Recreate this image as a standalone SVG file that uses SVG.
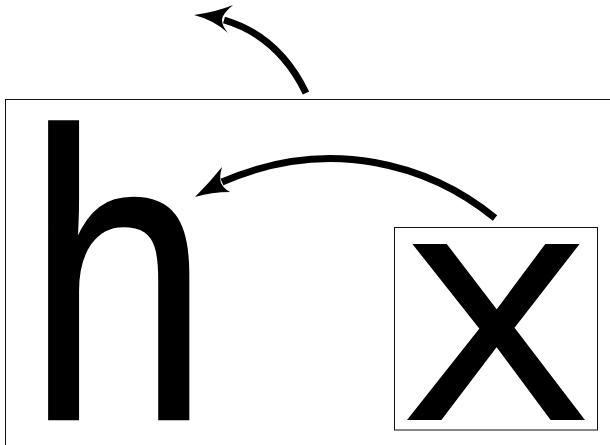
<svg xmlns="http://www.w3.org/2000/svg" width="610" height="445" viewBox="0 0 610 445">
<style>
.frame{fill:none;stroke:#111;stroke-width:1}
.glyph{font-family:"Liberation Sans",Arial,sans-serif;fill:#000;stroke:#000;stroke-linejoin:miter}
.shaft{fill:none;stroke:#000;stroke-width:7;stroke-linecap:butt}
.head{fill:#000;stroke:none}
</style>
<rect width="610" height="445" fill="#fff"/>
<g id="outer">
<rect class="frame" x="5.5" y="99.5" width="700" height="500"/>
<text class="glyph" font-size="410.6" stroke-width="2.4" transform="translate(26.2,419) scale(0.804,1)">h</text>
</g>
<g id="inner">
<rect class="frame" x="394.5" y="227.5" width="203" height="202.5"/>
<text class="glyph" font-size="248.6" stroke-width="5" transform="translate(406.3,417.5) scale(1.08,1)">X</text>
</g>
<g id="connectors">
<path class="shaft" d="M306,93 C290,60 265,32 224,20"/>
<path class="head" d="M194,15 Q216,12 233,5 Q222,14 222,20 Q222,26 228,33 Q214,20 194,15 Z"/>
<path class="shaft" d="M495,218 C430,165 330,135 222,182"/>
<path class="head" d="M195,197 Q210,182 222,167 Q219,177 221,183 Q224,189 230,192 Q212,192 195,197 Z"/>
</g>
</svg>
